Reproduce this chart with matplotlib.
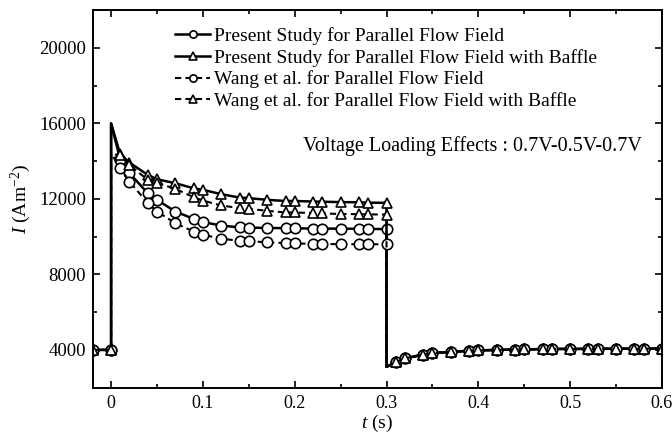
import matplotlib
matplotlib.use("Agg")
import matplotlib.pyplot as plt
from matplotlib.ticker import MultipleLocator

plt.rcParams["font.family"] = ["Liberation Serif", "DejaVu Serif"]
plt.rcParams["mathtext.fontset"] = "custom"
plt.rcParams["mathtext.rm"] = "Liberation Serif"
plt.rcParams["mathtext.it"] = "Liberation Serif:italic"

# temps (s) : avant l'echelon, a 0.5 V, retour a 0.7 V
t_base = [-0.02, 0.0]
t_rise = [0.0, 0.01, 0.02, 0.04, 0.05, 0.07, 0.09, 0.10, 0.12, 0.14,
          0.15, 0.17, 0.19, 0.20, 0.22, 0.23, 0.25, 0.27, 0.28, 0.30]
t_fall = [0.30, 0.31, 0.32, 0.34, 0.35, 0.37, 0.39, 0.40, 0.42, 0.44,
          0.45, 0.47, 0.48, 0.50, 0.52, 0.53, 0.55, 0.57, 0.58, 0.60]

base_level = [4000, 4000]

present_pf = [16000, 14060, 13360, 12300, 11950, 11330, 10940, 10770, 10590, 10490,
              10480, 10460, 10450, 10440, 10430, 10430, 10420, 10420, 10410, 10400]
present_baffle = [16000, 14360, 13920, 13270, 13040, 12830, 12560, 12480, 12250, 12070,
                  12040, 11950, 11890, 11890, 11860, 11850, 11830, 11820, 11800, 11790]
wang_pf = [14400, 13660, 12920, 11770, 11330, 10710, 10270, 10100, 9890, 9780,
           9760, 9700, 9660, 9640, 9620, 9610, 9600, 9600, 9600, 9590]
wang_baffle = [14400, 14300, 13800, 13000, 12850, 12530, 12090, 11910, 11650, 11510,
               11470, 11370, 11280, 11280, 11250, 11230, 11200, 11190, 11180, 11170]

recovery = [3100, 3350, 3550, 3750, 3820, 3900, 3950, 3970, 4000, 4020,
            4030, 4040, 4050, 4050, 4055, 4060, 4060, 4060, 4065, 4065]

labels = ["Present Study for Parallel Flow Field",
          "Present Study for Parallel Flow Field with Baffle",
          "Wang et al. for Parallel Flow Field",
          "Wang et al. for Parallel Flow Field with Baffle"]

x_ticks = [0, 0.1, 0.2, 0.3, 0.4, 0.5, 0.6]
x_tick_labels = ["0", "0.1", "0.2", "0.3", "0.4", "0.5", "0.6"]
y_ticks = [4000, 8000, 12000, 16000, 20000]

t_all = t_base + t_rise + t_fall
# pas de symbole sur les sauts verticaux
n_b, n_r = len(t_base), len(t_rise)
marks = [i for i in range(len(t_all)) if i not in (n_b, n_b + n_r)]

fig = plt.figure(figsize=(6.72, 4.41), dpi=100)
ax = fig.add_axes([0.138, 0.121, 0.847, 0.856])

series = [
    (present_pf, "o", "-", 1.8),
    (present_baffle, "^", "-", 1.8),
    (wang_pf, "o", (0, (3, 2)), 1.5),
    (wang_baffle, "^", (0, (3, 2)), 1.5),
]
for (vals, mk, ls, lw), lab in zip(series, labels):
    y = base_level + vals + recovery
    ax.plot(t_all, y, color="black", linestyle=ls, linewidth=lw,
            marker=mk, markersize=7.5, markerfacecolor="white",
            markeredgecolor="black", markeredgewidth=1.2,
            markevery=marks, label=lab)

ax.set_xlim(-0.02, 0.6)
ax.set_ylim(2000, 22000)
ax.set_xticks(x_ticks)
ax.set_xticklabels(x_tick_labels)
ax.set_yticks(y_ticks)
ax.xaxis.set_minor_locator(MultipleLocator(0.05))
ax.yaxis.set_minor_locator(MultipleLocator(2000))
ax.tick_params(which="both", direction="in", top=True, right=True,
               labelsize=13.5, width=1.2)
ax.tick_params(axis="x", labelsize=13)
ax.tick_params(which="major", length=5, pad=5)
ax.tick_params(which="minor", length=3)
for s in ax.spines.values():
    s.set_linewidth(1.4)

ax.set_xlabel("$t$ (s)", fontsize=14, labelpad=1)
ax.set_ylabel("$I$ (Am$^{-2}$)", fontsize=14, labelpad=4)

ax.legend(loc="upper left", bbox_to_anchor=(0.131, 0.976), frameon=False,
          fontsize=14, handlelength=1.8, handletextpad=0.2,
          labelspacing=0.2, borderaxespad=0, markerscale=0.7)
ax.text(0.964, 0.64, "Voltage Loading Effects : 0.7V-0.5V-0.7V",
        transform=ax.transAxes, ha="right", va="center", fontsize=14.5)

fig.savefig("out.png", dpi=100)
